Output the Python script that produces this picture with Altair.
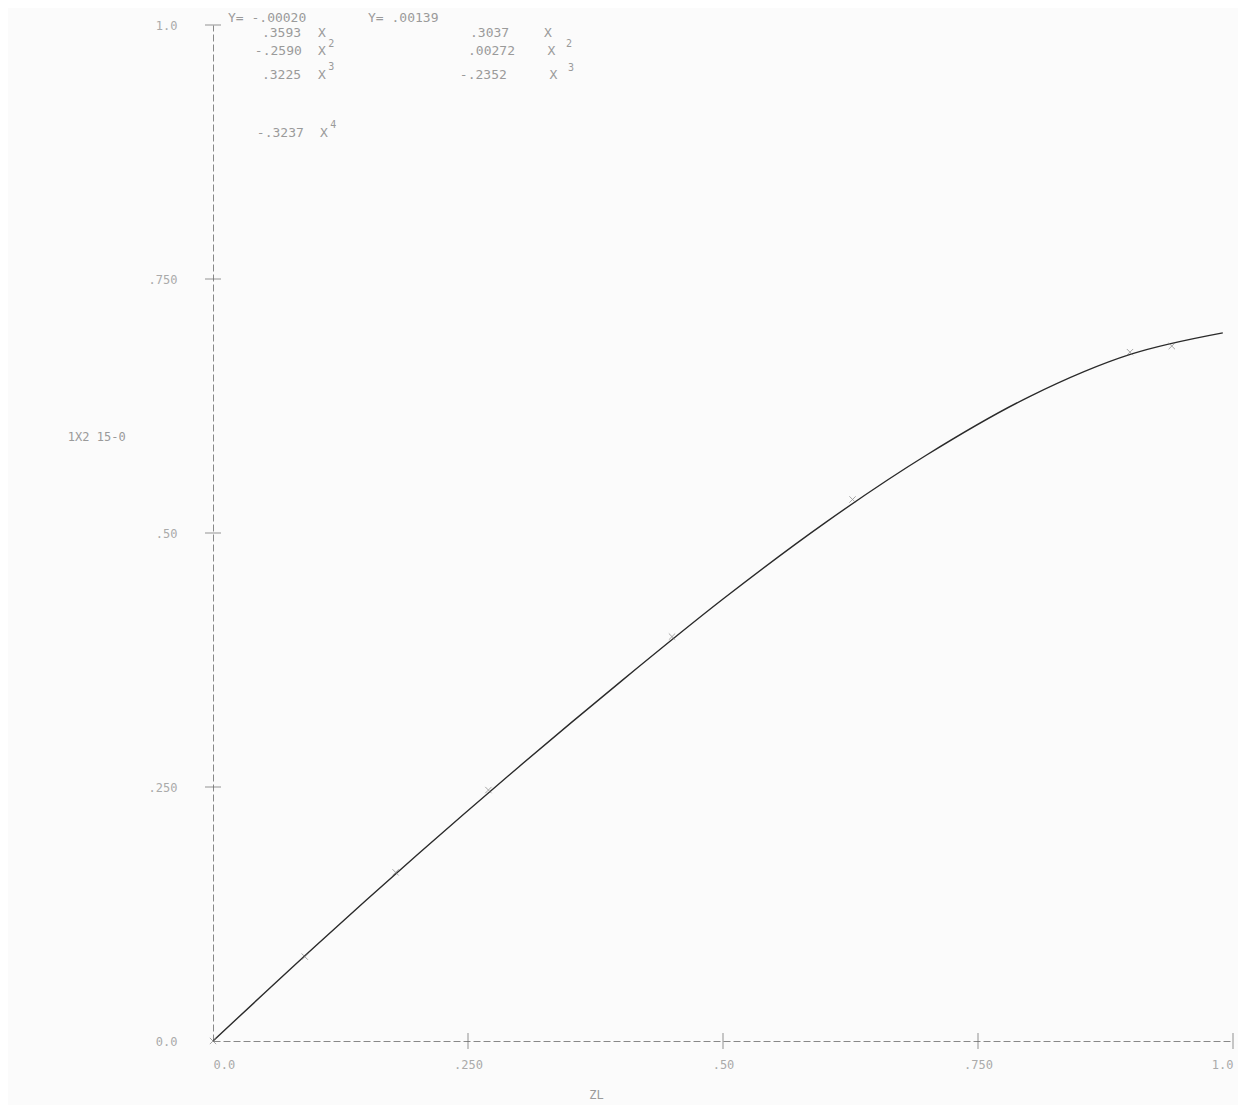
import altair as alt
import pandas as pd

# fitted curve
curve_x = [0.0, 0.1, 0.2, 0.3, 0.4, 0.5, 0.6, 0.7, 0.8, 0.9, 0.99]
curve_y = [0.0, 0.093, 0.183, 0.270, 0.354, 0.435, 0.510, 0.577, 0.634, 0.676, 0.697]

# plotted symbols
pt_x = [0.0, 0.090, 0.179, 0.270, 0.450, 0.627, 0.899, 0.940]
pt_y = [0.0, 0.083, 0.166, 0.247, 0.398, 0.533, 0.678, 0.684]

tick_vals = [0.0, 0.25, 0.5, 0.75, 1.0]
x_tick_labels = ["0.0", ".250", ".50", ".750", "1.0"]
y_tick_labels = ["0.0", ".250", ".50", ".750", "1.0"]

# equation annotations (text, x, y in data units, size)
ann_text = ["Y= -.00020", ".3593", "X", "-.2590", "X", "2", ".3225", "X", "3",
            "-.3237", "X", "4",
            "Y=  .00139", ".3037", "X", ".00272", "X", "2", "-.2352", "X", "3"]
ann_x = [0.0147, 0.048, 0.103, 0.041, 0.103, 0.113, 0.048, 0.103, 0.113,
         0.043, 0.105, 0.115,
         0.152, 0.252, 0.3245, 0.250, 0.328, 0.346, 0.242, 0.330, 0.348]
ann_y = [1.007, 0.992, 0.992, 0.974, 0.974, 0.981, 0.951, 0.951, 0.959,
         0.894, 0.894, 0.902,
         1.007, 0.992, 0.992, 0.974, 0.974, 0.981, 0.951, 0.951, 0.958]
ann_size = [13, 13, 13, 13, 13, 10, 13, 13, 10, 13, 13, 10,
            13, 13, 13, 13, 13, 10, 13, 13, 10]

ylab_text = ["1X2 15-0"]
ylab_x = [-0.114]
ylab_y = [0.594]
xlab_text = ["ZL"]
xlab_x = [0.376]
xlab_y = [-0.053]

curve = pd.DataFrame({"x": curve_x, "y": curve_y})
pts = pd.DataFrame({"x": pt_x, "y": pt_y})
ann = pd.DataFrame({"x": ann_x, "y": ann_y, "t": ann_text, "s": ann_size})
labs = pd.DataFrame({"x": ylab_x + xlab_x, "y": ylab_y + xlab_y, "t": ylab_text + xlab_text})
xt = pd.DataFrame({"x": tick_vals[1:], "y": [0.0] * 4})
yt = pd.DataFrame({"x": [0.0] * 4, "y": tick_vals[1:]})

def lab_expr(labels):
    parts = []
    for v, l in zip(tick_vals, labels):
        parts.append(f"abs(datum.value-{v})<0.001 ? '{l}'")
    return " : ".join(parts) + " : ''"

font = "DejaVu Sans Mono"
xs = alt.Scale(domain=[0, 1], nice=False, zero=False)
ys = alt.Scale(domain=[0, 1], nice=False, zero=False)

xax = alt.Axis(values=tick_vals, labelExpr=lab_expr(x_tick_labels), ticks=False,
               grid=False, title=None, labelPadding=18, labelFont=font,
               labelFontSize=12, labelColor="#aaaaaa", domainColor="#888888",
               domainDash=[7, 3], domainWidth=1)
yax = alt.Axis(values=tick_vals, labelExpr=lab_expr(y_tick_labels), ticks=False,
               grid=False, title=None, labelPadding=36, labelFont=font,
               labelFontSize=12, labelColor="#aaaaaa", domainColor="#888888",
               domainDash=[7, 3], domainWidth=1)

line = alt.Chart(curve).mark_line(color="#2a2a2a", strokeWidth=1.4, interpolate="monotone").encode(
    x=alt.X("x:Q", scale=xs, axis=xax),
    y=alt.Y("y:Q", scale=ys, axis=yax),
)
points = alt.Chart(pts).mark_point(shape="M-1,-1L1,1M1,-1L-1,1", filled=False,
                                   color="#777777", size=40, strokeWidth=0.9).encode(
    x=alt.X("x:Q", scale=xs), y=alt.Y("y:Q", scale=ys))
xticks = alt.Chart(xt).mark_tick(orient="vertical", size=16, thickness=1, color="#666666").encode(
    x=alt.X("x:Q", scale=xs), y=alt.Y("y:Q", scale=ys))
yticks = alt.Chart(yt).mark_tick(orient="horizontal", size=16, thickness=1, color="#666666").encode(
    x=alt.X("x:Q", scale=xs), y=alt.Y("y:Q", scale=ys))
eqs = alt.Chart(ann).mark_text(font=font, color="#9a9a9a", align="left", baseline="middle").encode(
    x=alt.X("x:Q", scale=xs), y=alt.Y("y:Q", scale=ys), text="t:N",
    size=alt.Size("s:Q", scale=None, legend=None))
labels = alt.Chart(labs).mark_text(font=font, color="#9a9a9a", fontSize=12, align="center",
                                    baseline="middle").encode(
    x=alt.X("x:Q", scale=xs), y=alt.Y("y:Q", scale=ys), text="t:N")

chart = alt.layer(line, points, xticks, yticks, eqs, labels).properties(
    width=1020, height=1016,
    autosize=alt.AutoSizeParams(type="none"),
    padding={"left": 205, "top": 17, "right": 5, "bottom": 64},
    background="#fbfbfb",
).configure_view(stroke=None)

chart.save("out.html", embed_options={"renderer": "svg", "actions": False})
